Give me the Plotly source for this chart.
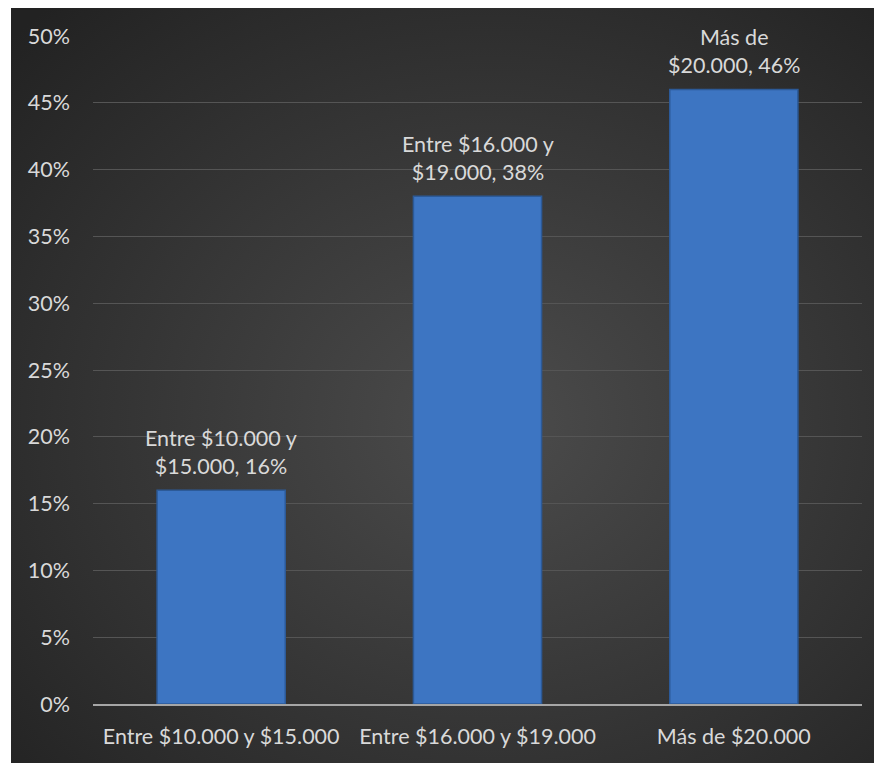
import base64
import plotly.graph_objects as go

categories = ["Entre $10.000 y $15.000", "Entre $16.000 y $19.000", "Más de $20.000"]
values = [16, 38, 46]
y_ticks = [0, 5, 10, 15, 20, 25, 30, 35, 40, 45, 50]
y_tick_labels = [f"{v}%" for v in y_ticks]

labels = []
for c, v in zip(categories, values):
    head, tail = c.rsplit(" ", 1)
    labels.append(f"{head}<br>{tail}, {v}%")

# page has an 8px body margin; compensate
OFF = 8
W, H = 882 - OFF, 763 - OFF
ml, mr, mt, mb = 93 - OFF, 20, 36 - OFF, 59
pw, ph = W - ml - mr, H - mt - mb

svg = (
    "<svg xmlns='http://www.w3.org/2000/svg' width='871' height='756' preserveAspectRatio='none'>"
    "<defs><radialGradient id='g' cx='55%' cy='55%' r='75%'>"
    "<stop offset='0' stop-color='#4c4c4c'/><stop offset='1' stop-color='#222222'/>"
    "</radialGradient></defs><rect width='871' height='756' fill='url(#g)'/></svg>"
)
src = "data:image/svg+xml;base64," + base64.b64encode(svg.encode()).decode()

font = "Lato, 'Open Sans', sans-serif"
txtcol = "#d9d9d9"
fs = 21.5

fig = go.Figure(
    go.Bar(
        x=categories,
        y=values,
        width=0.5,
        marker=dict(color="#3d75c2", line=dict(color="#2c5a98", width=1.5)),
        cliponaxis=False,
    )
)

for c, v, lab in zip(categories, values, labels):
    fig.add_annotation(
        x=c, y=v, text=lab, showarrow=False,
        xanchor="center", yanchor="bottom", yshift=9,
        font=dict(family=font, size=fs, color=txtcol),
        align="center",
    )

x0 = (3 - ml) / pw
x1 = (W - ml) / pw
y1 = (H - mb) / ph
y0 = (H - mb - H) / ph

fig.update_layout(
    width=W,
    height=H,
    margin=dict(l=ml, r=mr, t=mt, b=mb),
    paper_bgcolor="white",
    plot_bgcolor="rgba(0,0,0,0)",
    showlegend=False,
    images=[
        dict(
            source=src, xref="paper", yref="paper",
            x=x0, y=y1, sizex=x1 - x0, sizey=y1 - y0,
            xanchor="left", yanchor="top", sizing="stretch", layer="below",
        )
    ],
    xaxis=dict(
        showgrid=False,
        showline=True,
        linecolor="#a6a6a6",
        linewidth=2,
        ticks="",
        ticklabelstandoff=12,
        tickfont=dict(family=font, size=fs, color=txtcol),
        fixedrange=True,
    ),
    yaxis=dict(
        range=[0, 50],
        tickvals=y_ticks,
        ticktext=y_tick_labels,
        showgrid=True,
        gridcolor="#555555",
        gridwidth=1,
        zeroline=False,
        showline=False,
        ticks="",
        ticklabelstandoff=22,
        tickfont=dict(family=font, size=fs, color=txtcol),
        fixedrange=True,
    ),
)

fig.write_html("out.html")
